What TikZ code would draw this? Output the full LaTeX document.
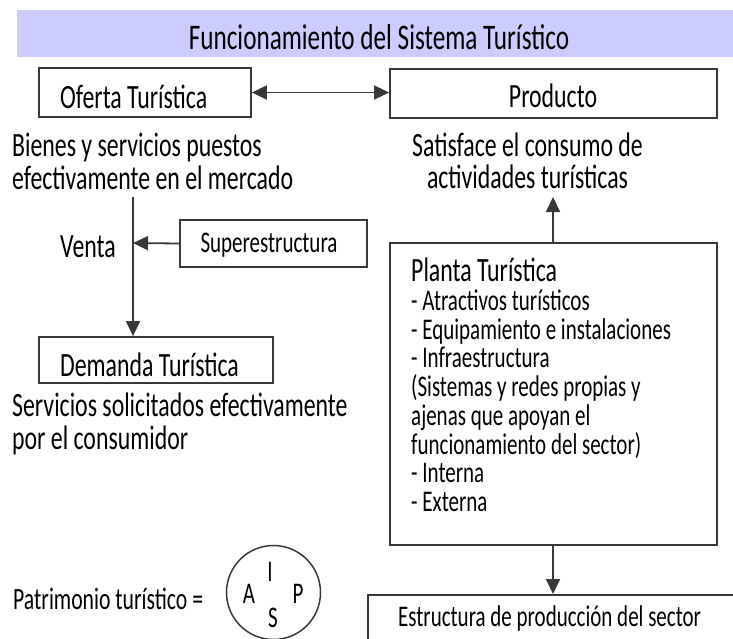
\documentclass[tikz,border=0pt]{standalone}
\usepackage{fontspec}
\setmainfont{Carlito}[FakeStretch=0.70]
\usetikzlibrary{arrows.meta,shapes.geometric}
\definecolor{band}{RGB}{204,204,255}
\definecolor{ln}{RGB}{56,56,56}
\tikzset{
  box/.style={draw=ln,line width=1.8pt,inner sep=0pt},
  txt/.style={inner sep=0pt,font=\fontsize{34}{32.5}\selectfont,text=black},
  small/.style={inner sep=0pt,font=\fontsize{30}{28.7}\selectfont,text=black},
  arr/.style={draw=ln,line width=1.8pt,-{Triangle[length=15pt,width=14pt]}},
  darr/.style={draw=ln,line width=1.8pt,{Triangle[length=15pt,width=14pt]}-{Triangle[length=15pt,width=14pt]}},
}
\begin{document}
\begin{tikzpicture}[x=1pt,y=-1pt]
\useasboundingbox (0,0) rectangle (733,638);
\clip (0,0) rectangle (733,638);
% title band
\fill[band] (17,10) rectangle (733,57);
\node[txt,font=\fontsize{36}{36}\selectfont] (title) at (379,37) {Funcionamiento del Sistema Turístico};
% boxes
\node[box,minimum width=212pt,minimum height=49pt] (oferta) at (145,92.5) {};
\node[txt,anchor=west] (ofertat) at (60,97) {Oferta Turística};
\node[box,minimum width=327pt,minimum height=49pt] (producto) at (553.5,93.5) {};
\node[txt] (productot) at (553,96) {Producto};
\draw[darr] (oferta.east) -- (oferta.east -| producto.west);
% texts
\node[txt,anchor=west,align=left] (bienes) at (12,161.5) {Bienes y servicios puestos\\efectivamente en el mercado};
\node[txt,align=center] (satisface) at (527.5,161) {Satisface el consumo de\\actividades turísticas};
% venta
\coordinate (vtop) at (133,197);
\coordinate (vmid) at (133,243);
\node[txt] (venta) at (88,247) {Venta};
\node[box,minimum width=187pt,minimum height=47pt] (super) at (273.5,243.5) {};
\node[small] (supert) at (269,245) {Superestructura};
\node[box,minimum width=234pt,minimum height=46pt] (demanda) at (156,360) {};
\node[txt,anchor=west] (demandat) at (60,365) {Demanda Turística};
\draw[draw=ln,line width=1.8pt] (vtop) -- (vmid);
\draw[arr] (vmid) -- (demanda.north -| vmid);
\draw[arr] (super.west) -- (vmid);
\node[txt,anchor=west,align=left] (servicios) at (12,424) {Servicios solicitados efectivamente\\por el consumidor};
% planta
\node[box,minimum width=327pt,minimum height=302pt] (planta) at (553.5,394) {};
\node[small,anchor=north west,align=left] (plantat) at (411,258) {{\fontsize{34}{28.7}\selectfont Planta Turística}\\- Atractivos turísticos\\- Equipamiento e instalaciones\\- Infraestructura\\(Sistemas y redes propias y\\ajenas que apoyan el\\funcionamiento del sector)\\- Interna\\- Externa};
\coordinate (satb) at (553,197);
\draw[arr] (planta.north -| satb) -- (satb);
\node[box,minimum width=380pt,minimum height=70pt,anchor=north west] (estructura) at (367,594) {};
\node[small,anchor=west] (estructurat) at (398,618) {Estructura de producción del sector};
\draw[arr] (planta.south -| satb) -- (estructura.north -| satb);
% patrimonio
\node[small,font=\fontsize{31}{32}\selectfont,anchor=west] (patri) at (13,599) {Patrimonio turístico =};
\node[draw=ln,line width=1.5pt,circle,minimum size=94pt,inner sep=0pt] (circ) at (273.5,592.5) {};
\node[small] (li) at (270,572) {I};
\node[small] (la) at (249,594) {A};
\node[small] (lp) at (298,594) {P};
\node[small] (ls) at (273,618) {S};
\end{tikzpicture}
\end{document}
